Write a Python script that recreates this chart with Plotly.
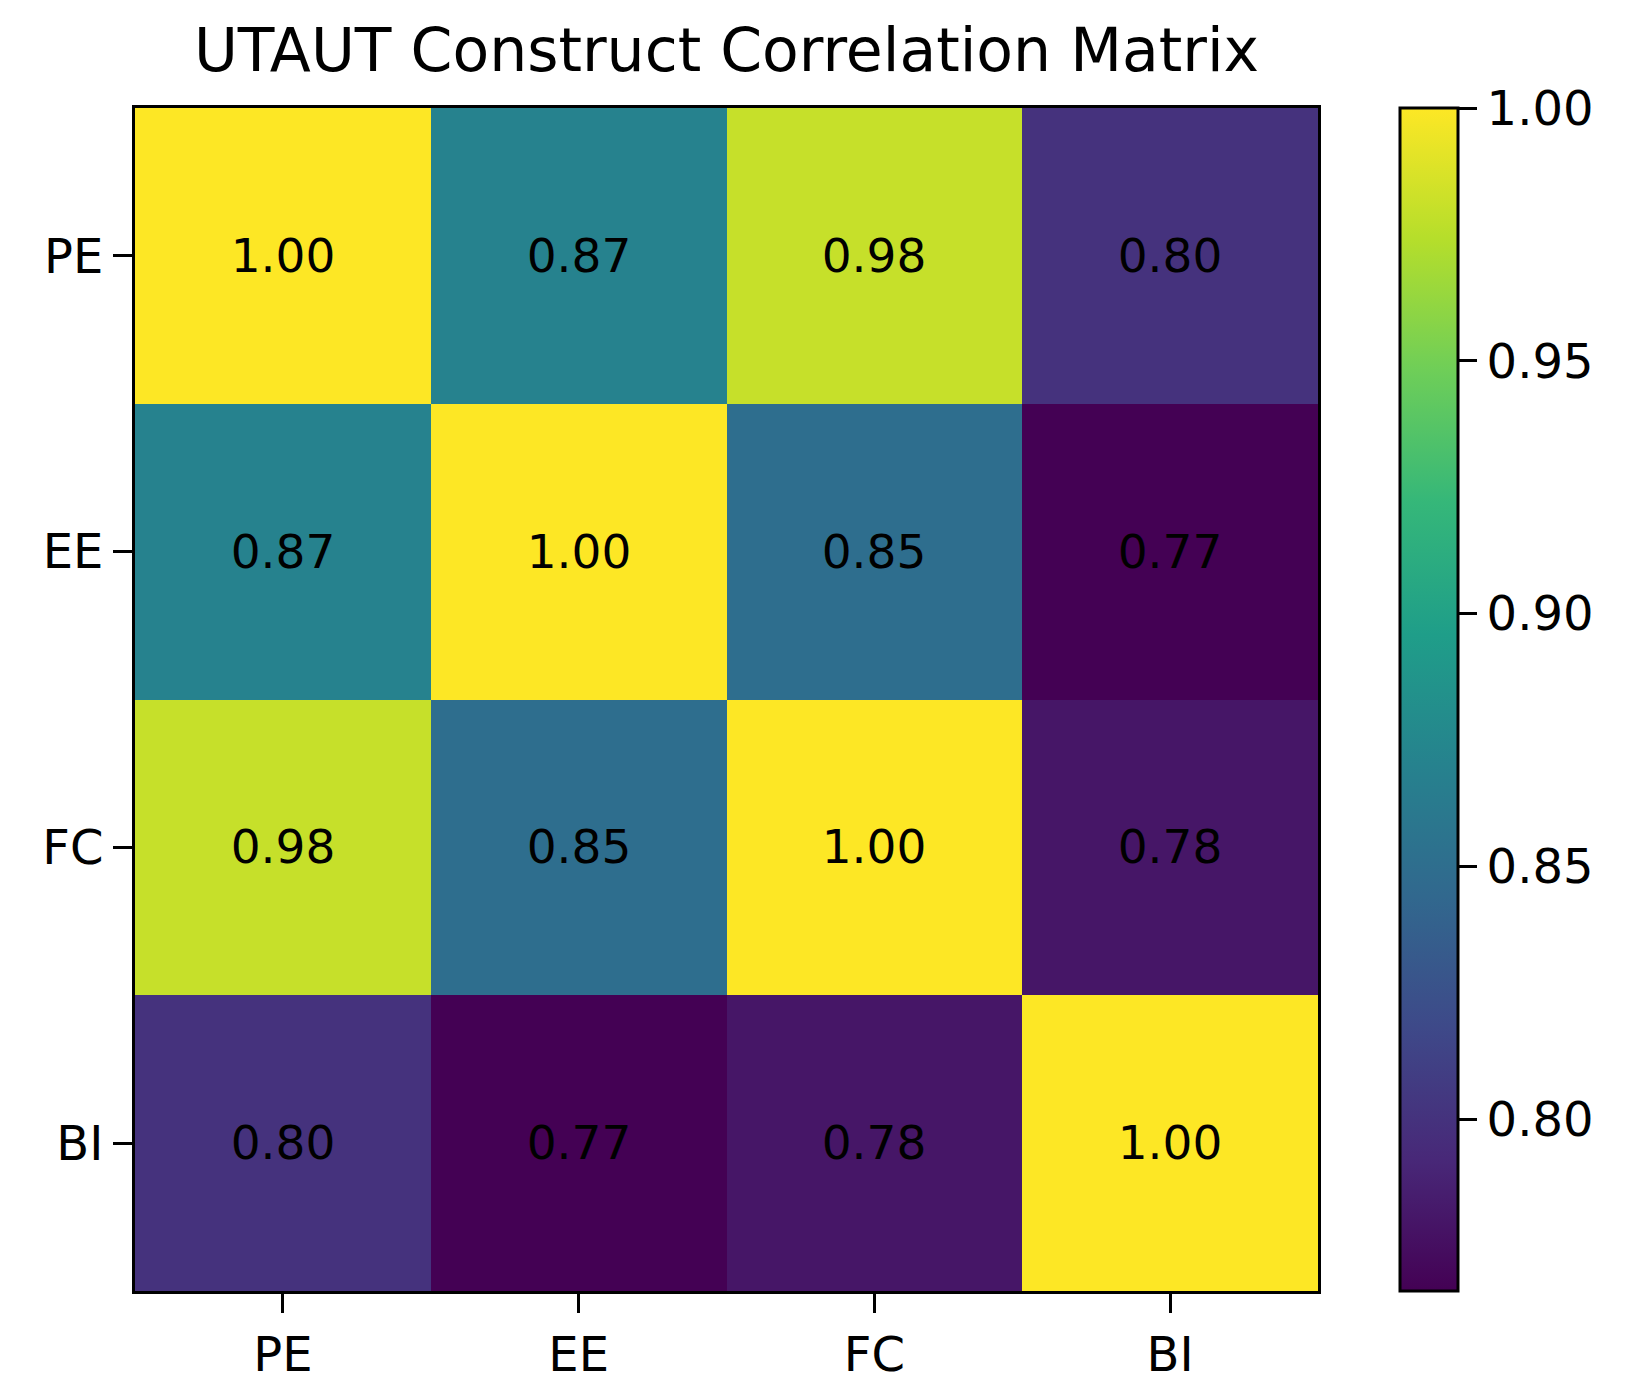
import plotly.graph_objects as go

# constructs and correlation matrix
constructs = ['PE', 'EE', 'FC', 'BI']
row_pe = [1.00, 0.87, 0.98, 0.80]
row_ee = [0.87, 1.00, 0.85, 0.766]
row_fc = [0.98, 0.85, 1.00, 0.78]
row_bi = [0.80, 0.766, 0.78, 1.00]
cbar_ticks = [0.80, 0.85, 0.90, 0.95, 1.00]

z = [row_pe, row_ee, row_fc, row_bi]
zmin = min(min(r) for r in z)
zmax = max(max(r) for r in z)

font = 'DejaVu Sans'

heat = go.Heatmap(
    z=z, x=constructs, y=constructs,
    colorscale='Viridis', zmin=zmin, zmax=zmax,
    texttemplate='%{z:.2f}',
    textfont=dict(family=font, size=47, color='black'),
    colorbar=dict(
        x=(1392 - 127) / 1183, xanchor='left', xpad=0,
        y=0.5, yanchor='middle', ypad=0,
        len=1.0, lenmode='fraction',
        thickness=58, thicknessmode='pixels',
        outlinecolor='black', outlinewidth=3,
        tickvals=cbar_ticks, ticktext=['%.2f' % t for t in cbar_ticks],
        ticks='outside', ticklen=18, tickwidth=3, tickcolor='black',
        tickfont=dict(family=font, size=48, color='black'),
    ),
)

fig = go.Figure(heat)
fig.update_layout(
    width=1626, height=1388,
    margin=dict(l=127, r=316, t=100, b=105),
    paper_bgcolor='white', plot_bgcolor='white',
    title=dict(text='UTAUT Construct Correlation Matrix',
               x=(127 + 1310) / 2 / 1626, xanchor='center',
               y=1 - 42 / 1388, yanchor='middle',
               font=dict(family=font, size=60, color='black')),
)
fig.update_xaxes(
    showline=True, linecolor='black', linewidth=3, mirror=True,
    ticks='outside', ticklen=19, tickwidth=3, tickcolor='black',
    tickfont=dict(family=font, size=48, color='black'),
    showgrid=False, zeroline=False,
)
fig.update_yaxes(
    autorange='reversed',
    showline=True, linecolor='black', linewidth=3, mirror=True,
    ticks='outside', ticklen=19, tickwidth=3, tickcolor='black',
    tickfont=dict(family=font, size=48, color='black'),
    showgrid=False, zeroline=False,
)

fig.write_html('out.html')
